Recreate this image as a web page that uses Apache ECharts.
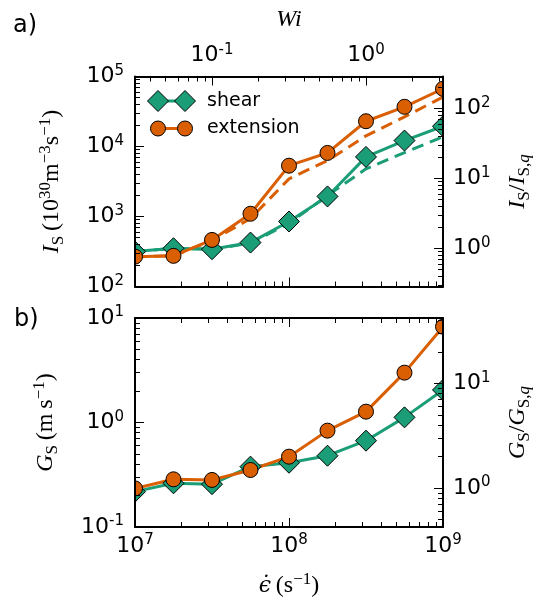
<!DOCTYPE html>
<html>
<head>
<meta charset="utf-8">
<script src="https://cdn.jsdelivr.net/npm/echarts@6/dist/echarts.min.js"></script>
<style>
  html, body { margin: 0; padding: 0; background: #fff; }
  #chart { width: 538px; height: 604px; }
</style>
</head>
<body>
<div id="chart"></div>
<script>
// Strain rates, quarter-decade steps (s^-1)
const strainRate = [1e7, 1.778e7, 3.162e7, 5.623e7, 1e8, 1.778e8, 3.162e8, 5.623e8, 1e9];

// Nucleation rate I_S (10^30 m^-3 s^-1)
const nucShear = [315, 352, 341, 424, 848, 1935, 7100, 12160, 19450];
const nucExtension = [267, 274, 463, 1094, 5320, 8090, 22950, 36900, 66800];
const nucShearDashed = [315, 352, 341, 415, 800, 2000, 4800, 8200, 13800];
const nucExtensionDashed = [267, 274, 455, 935, 3450, 6300, 14200, 26500, 51000];

// Growth rate G_S (m s^-1)
const growShear = [0.218, 0.262, 0.257, 0.378, 0.412, 0.481, 0.670, 1.12, 2.05];
const growExtension = [0.234, 0.286, 0.282, 0.351, 0.471, 0.836, 1.27, 3.00, 8.26];

// Quiescent reference values used by the ratio axes
const nucQuiescent = 352;
const growQuiescent = 0.236;
// Weissenberg number per unit strain rate
const wiPerRate = 3.162e-9;

// Axis ranges
const rateRange = [1e7, 1e9];
const wiRange = [rateRange[0] * wiPerRate, rateRange[1] * wiPerRate];
const nucRange = [1e2, 1e5];
const nucRatioRange = [nucRange[0] / nucQuiescent, nucRange[1] / nucQuiescent];
const growRange = [1e-1, 1e1];
const growRatioRange = [growRange[0] / growQuiescent, growRange[1] / growQuiescent];

// Tick labels (decades)
const rateTicks = [1e7, 1e8, 1e9];
const wiTicks = [1e-1, 1e0];
const nucTicks = [1e2, 1e3, 1e4, 1e5];
const nucRatioTicks = [1e0, 1e1, 1e2];
const growTicks = [1e-1, 1e0, 1e1];
const growRatioTicks = [1e0, 1e1];

const GREEN = '#1b9e77';
const ORANGE = '#d95f02';
const SANS = 'DejaVu Sans';
const SERIF = 'Liberation Serif';

// Plot frames
const FRAME_LEFT = 135, FRAME_RIGHT = 443;
const PANEL_A = { top: 76.5, height: 210 };
const PANEL_B = { top: 318, height: 209 };

// log minor ticks at 2..9 x 10^n inside [lo, hi]
function minorTicks(range) {
  const out = [];
  const d0 = Math.floor(Math.log10(range[0])) - 1;
  const d1 = Math.ceil(Math.log10(range[1])) + 1;
  for (let d = d0; d <= d1; d++) {
    for (let k = 2; k <= 9; k++) {
      const v = k * Math.pow(10, d);
      if (v > range[0] * 1.0001 && v < range[1] * 0.9999) out.push(v);
    }
  }
  return out;
}

function powLabel(v) {
  const e = Math.round(Math.log10(v));
  return '{b|10}{s|' + e + '}';
}

const tickRich = {
  b: { fontFamily: SANS, fontSize: 22, color: '#000', lineHeight: 26 },
  s: { fontFamily: SANS, fontSize: 15, color: '#000', lineHeight: 15, verticalAlign: 'top' }
};

const nameRich = {
  i: { fontFamily: SERIF, fontStyle: 'italic', fontSize: 24, color: '#000', lineHeight: 30 },
  e: { fontFamily: 'DejaVu Serif', fontStyle: 'italic', fontSize: 22, color: '#000', lineHeight: 30 },
  r: { fontFamily: SERIF, fontSize: 24, color: '#000', lineHeight: 30 },
  sub: { fontFamily: SERIF, fontSize: 17, color: '#000', lineHeight: 17, verticalAlign: 'bottom' },
  subi: { fontFamily: SERIF, fontStyle: 'italic', fontSize: 17, color: '#000', lineHeight: 17, verticalAlign: 'bottom' },
  sup: { fontFamily: SERIF, fontSize: 17, color: '#000', lineHeight: 17, verticalAlign: 'top' }
};

// An axis drawing one side of a frame with major ticks (and optional labels / name)
function frameAxis(grid, position, range, ticks, extra) {
  return Object.assign({
    type: 'log',
    logBase: 10,
    gridIndex: grid,
    position: position,
    min: range[0],
    max: range[1],
    z: 5,
    axisLine: { show: true, onZero: false, lineStyle: { color: '#000', width: 2 } },
    axisTick: { show: true, inside: true, length: 9, lineStyle: { color: '#000', width: 1 }, customValues: ticks },
    minorTick: { show: false },
    splitLine: { show: false },
    minorSplitLine: { show: false },
    axisLabel: { show: false, customValues: ticks }
  }, extra || {});
}

// Overlay axis carrying the short minor ticks
function minorAxis(grid, position, range) {
  return {
    type: 'log',
    logBase: 10,
    gridIndex: grid,
    position: position,
    min: range[0],
    max: range[1],
    z: 5,
    axisLine: { show: false, onZero: false },
    axisTick: { show: true, inside: true, length: 5, lineStyle: { color: '#000', width: 1 }, customValues: minorTicks(range) },
    minorTick: { show: false },
    splitLine: { show: false },
    axisLabel: { show: false }
  };
}

function withLabels(ax, ticks, margin) {
  ax.axisLabel = { show: true, formatter: powLabel, rich: tickRich, margin: margin, customValues: ticks };
  return ax;
}

const xAxes = [
  frameAxis(0, 'bottom', rateRange, rateTicks),
  withLabels(frameAxis(0, 'top', wiRange, wiTicks, {
    name: '{i|Wi}', nameLocation: 'middle', nameGap: 42, nameMoveOverlap: false,
    nameTextStyle: { rich: nameRich }
  }), wiTicks, 8),
  withLabels(frameAxis(1, 'bottom', rateRange, rateTicks, {
    name: '{e|\u03f5\u0307}{r|\u2009(s}{sup|\u22121}{r|)}', nameLocation: 'middle', nameGap: 44, nameMoveOverlap: false,
    nameTextStyle: { rich: nameRich }
  }), rateTicks, 6),
  frameAxis(1, 'top', rateRange, rateTicks),
  minorAxis(0, 'bottom', rateRange),
  minorAxis(0, 'top', wiRange),
  minorAxis(1, 'bottom', rateRange),
  minorAxis(1, 'top', rateRange)
];

const yAxes = [
  withLabels(frameAxis(0, 'left', nucRange, nucTicks, {
    name: '{i|I}{sub|S}{r|\u2009(10}{sup|30}{r|m}{sup|\u22123}{r|s}{sup|\u22121}{r|)}',
    nameLocation: 'middle', nameGap: 68, nameRotate: 90, nameMoveOverlap: false,
    nameTextStyle: { rich: nameRich }
  }), nucTicks, 11),
  withLabels(frameAxis(0, 'right', nucRatioRange, nucRatioTicks, {
    name: '{i|I}{sub|S}{r|/}{i|I}{sub|S,}{subi|q}',
    nameLocation: 'middle', nameGap: 60, nameRotate: 90, nameMoveOverlap: false,
    nameTextStyle: { rich: nameRich }
  }), nucRatioTicks, 10),
  withLabels(frameAxis(1, 'left', growRange, growTicks, {
    name: '{i|G}{sub|S}{r|\u2009(m\u2009s}{sup|\u22121}{r|)}',
    nameLocation: 'middle', nameGap: 74, nameRotate: 90, nameMoveOverlap: false,
    nameTextStyle: { rich: nameRich }
  }), growTicks, 11),
  withLabels(frameAxis(1, 'right', growRatioRange, growRatioTicks, {
    name: '{i|G}{sub|S}{r|/}{i|G}{sub|S,}{subi|q}',
    nameLocation: 'middle', nameGap: 60, nameRotate: 90, nameMoveOverlap: false,
    nameTextStyle: { rich: nameRich }
  }), growRatioTicks, 10),
  minorAxis(0, 'left', nucRange),
  minorAxis(0, 'right', nucRatioRange),
  minorAxis(1, 'left', growRange),
  minorAxis(1, 'right', growRatioRange)
];

function pairs(xs, ys) { return xs.map((x, i) => [x, ys[i]]); }

function markerSeries(name, values, xi, yi, color, symbol, size) {
  return {
    name: name, type: 'line', xAxisIndex: xi, yAxisIndex: yi,
    data: pairs(strainRate, values),
    symbol: symbol, symbolSize: size, showAllSymbol: true,
    lineStyle: { color: color, width: 3 },
    itemStyle: { color: color, borderColor: '#000', borderWidth: 1 },
    emphasis: { disabled: true },
    animation: false, clip: true, z: 2
  };
}

function dashedSeries(name, values, xi, yi, color) {
  return {
    name: name, type: 'line', xAxisIndex: xi, yAxisIndex: yi,
    data: pairs(strainRate, values),
    symbol: 'none',
    lineStyle: { color: color, width: 3, type: [12, 7] },
    emphasis: { disabled: true },
    animation: false, clip: true, z: 1
  };
}

const series = [
  dashedSeries('shear (est.)', nucShearDashed, 0, 0, GREEN),
  dashedSeries('extension (est.)', nucExtensionDashed, 0, 0, ORANGE),
  markerSeries('shear', nucShear, 0, 0, GREEN, 'diamond', 21),
  markerSeries('extension', nucExtension, 0, 0, ORANGE, 'circle', 15),
  markerSeries('shear', growShear, 2, 2, GREEN, 'diamond', 21),
  markerSeries('extension', growExtension, 2, 2, ORANGE, 'circle', 15)
];

// Legend drawn as marker-line-marker samples
function diamondPts(cx, cy, r) { return [[cx, cy - r], [cx + r, cy], [cx, cy + r], [cx - r, cy]]; }
const legendX = [158, 185], legendY = [101, 128.5], legendTextX = 207;
const legendGraphics = [
  { type: 'line', shape: { x1: legendX[0], y1: legendY[0], x2: legendX[1], y2: legendY[0] }, style: { stroke: GREEN, lineWidth: 3 }, z: 10 },
  { type: 'polygon', shape: { points: diamondPts(legendX[0], legendY[0], 10.5) }, style: { fill: GREEN, stroke: '#000', lineWidth: 1 }, z: 11 },
  { type: 'polygon', shape: { points: diamondPts(legendX[1], legendY[0], 10.5) }, style: { fill: GREEN, stroke: '#000', lineWidth: 1 }, z: 11 },
  { type: 'text', x: legendTextX, y: legendY[0], style: { text: 'shear', font: '19px "DejaVu Sans"', fill: '#000', verticalAlign: 'middle' }, z: 11 },
  { type: 'line', shape: { x1: legendX[0], y1: legendY[1], x2: legendX[1], y2: legendY[1] }, style: { stroke: ORANGE, lineWidth: 3 }, z: 10 },
  { type: 'circle', shape: { cx: legendX[0], cy: legendY[1], r: 7.5 }, style: { fill: ORANGE, stroke: '#000', lineWidth: 1 }, z: 11 },
  { type: 'circle', shape: { cx: legendX[1], cy: legendY[1], r: 7.5 }, style: { fill: ORANGE, stroke: '#000', lineWidth: 1 }, z: 11 },
  { type: 'text', x: legendTextX, y: legendY[1], style: { text: 'extension', font: '19px "DejaVu Sans"', fill: '#000', verticalAlign: 'middle' }, z: 11 }
];

// White margins hide the halves of markers that sit on the frame edges
const marginMasks = [
  { type: 'rect', shape: { x: 0, y: 0, width: FRAME_LEFT, height: 604 }, style: { fill: '#fff' }, z: 3 },
  { type: 'rect', shape: { x: FRAME_RIGHT, y: 0, width: 538 - FRAME_RIGHT, height: 604 }, style: { fill: '#fff' }, z: 3 }
];

const panelLabels = [
  { type: 'text', x: 13, y: 26, style: { text: 'a)', font: '24px "DejaVu Sans"', fill: '#000', verticalAlign: 'middle' }, z: 12 },
  { type: 'text', x: 14, y: 320, style: { text: 'b)', font: '24px "DejaVu Sans"', fill: '#000', verticalAlign: 'middle' }, z: 12 }
];

const chart = echarts.init(document.getElementById('chart'), null, { renderer: 'canvas' });
chart.setOption({
  backgroundColor: '#fff',
  animation: false,
  grid: [
    { left: FRAME_LEFT, top: PANEL_A.top, width: FRAME_RIGHT - FRAME_LEFT, height: PANEL_A.height, outerBoundsMode: 'none', containLabel: false },
    { left: FRAME_LEFT, top: PANEL_B.top, width: FRAME_RIGHT - FRAME_LEFT, height: PANEL_B.height, outerBoundsMode: 'none', containLabel: false }
  ],
  xAxis: xAxes,
  yAxis: yAxes,
  series: series,
  graphic: { elements: marginMasks.concat(legendGraphics, panelLabels) }
});
</script>
</body>
</html>
